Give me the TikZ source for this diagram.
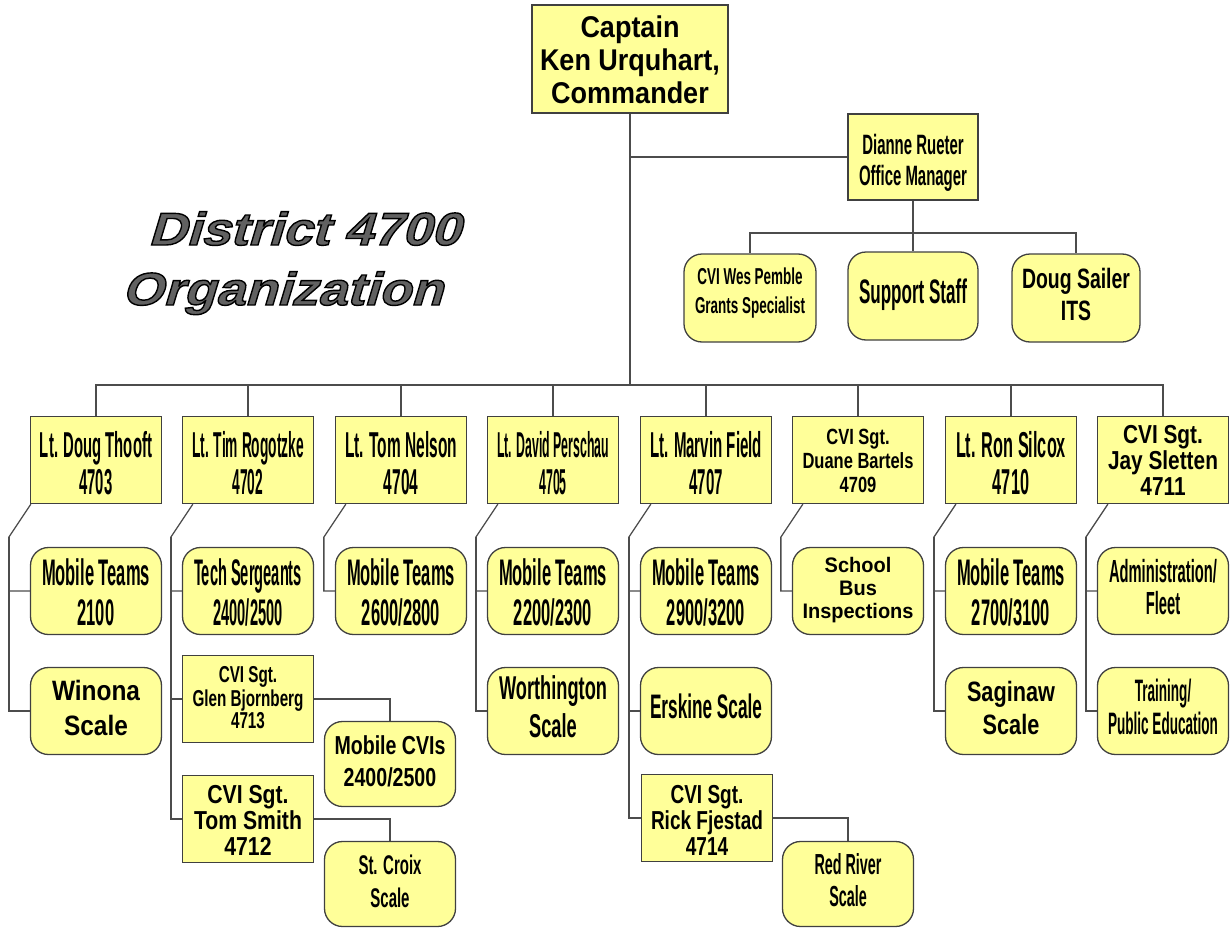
\documentclass[tikz,border=0pt]{standalone}
\usepackage{fontspec}
\usepackage{graphicx}
\usepackage{tikz}
\usetikzlibrary{calc, positioning}
\setmainfont{Liberation Sans}
\newfontfamily\titlefont{Liberation Sans}[FakeStretch=1.14,FakeSlant=0.3]
\definecolor{boxfill}{RGB}{255,255,153}
\newcommand{\fit}[3][0]{\raisebox{-#1pt}[\height][\depth]{\resizebox*{#2pt}{\totalheight}{\begin{tabular}{@{}c@{}}#3\end{tabular}}}}
\newcommand{\outlined}[1]{\special{pdf:literal direct 0 0 0 RG 2 Tr 1.4 w}#1\special{pdf:literal direct 0 Tr}}

\begin{document}
\begin{tikzpicture}[x=1pt,y=-1pt]
  \tikzset{unit/.style={draw=black!75,line width=1.3pt,fill=boxfill,inner sep=0pt,
      minimum width=131pt,minimum height=87pt}}
  \tikzset{team/.style={unit,rounded corners=18pt}}
  \tikzset{link/.style={draw=black!70,line width=1.3pt}}
  \tikzset{fs/.style 2 args={font=\fontsize{#1}{#2}\selectfont}}
  \tikzset{fb/.style 2 args={font=\bfseries\fontsize{#1}{#2}\selectfont}}
  \tikzset{title/.style={inner sep=0pt,text=black!62,font=\titlefont\bfseries\fontsize{46}{50}\selectfont}}
  \useasboundingbox (0,0) rectangle (1230,928);
  \node[title,anchor=base](ttl1) at (304,245) {\outlined{District 4700}};
  \node[title,anchor=base](ttl2) at (282,305) {\outlined{Organization}};
  \node[unit,minimum width=196pt,minimum height=108pt,fb={30}{33}](cmd) at (630,59) {\fit[5]{180}{Captain\\Ken Urquhart,\\Commander}};
  \node[unit,minimum width=130pt,minimum height=86pt,fb={28}{31}](mgr) at (913,157) {\fit[7]{108}{Dianne Rueter\\Office Manager}};
  \node[team,minimum width=132pt,minimum height=88pt,fb={23}{29}](grants) at (750,298) {\fit[-5]{110}{CVI Wes Pemble\\Grants Specialist}};
  \node[team,minimum width=130pt,minimum height=88pt,fb={34}{38}](staff) at (913,296) {\fit{108}{Support Staff}};
  \node[team,minimum width=128pt,minimum height=88pt,fb={28}{32}](its) at (1076,298) {\fit{108}{Doug Sailer\\ITS}};
  \coordinate(mbus) at (913,233);
  \coordinate(bus) at (630,385);
  \node[unit,fb={36}{37}](lt1) at (96,460) {\fit[9]{112}{Lt. Doug Thooft\\4703}};
  \node[unit,fb={36}{37}](lt2) at (248,460) {\fit[9]{112}{Lt. Tim Rogotzke\\4702}};
  \node[unit,fb={36}{37}](lt3) at (401,460) {\fit[9]{112}{Lt. Tom Nelson\\4704}};
  \node[unit,fb={36}{37}](lt4) at (553,460) {\fit[9]{112}{Lt. David Perschau\\4705}};
  \node[unit,fb={36}{37}](lt5) at (706,460) {\fit[9]{112}{Lt. Marvin Field\\4707}};
  \node[unit,fb={22}{24}](lt6) at (858,460) {\fit[4]{111}{CVI Sgt.\\Duane Bartels\\4709}};
  \node[unit,fb={36}{37}](lt7) at (1011,460) {\fit[9]{110}{Lt. Ron Silcox\\4710}};
  \node[unit,fb={26}{24}](lt8) at (1163,460) {\fit[4]{110}{CVI Sgt.\\Jay Sletten\\4711}};
  \node[team,fb={37}{40}](mt1) at (96,591) {\fit[6]{108}{Mobile Teams\\2100}};
  \node[team,fb={28}{35}](win) at (96,711) {\fit{88}{Winona\\Scale}};
  \node[team,fb={37}{40}](tech) at (248,591) {\fit[6]{108}{Tech Sergeants\\2400/2500}};
  \node[unit,fb={23}{22}](glen) at (248,699) {\fit[2]{111}{CVI Sgt.\\Glen Bjornberg\\4713}};
  \node[team,minimum height=85pt,fb={26}{32}](cvis) at (390,764) {\fit{111}{Mobile CVIs\\2400/2500}};
  \node[unit,fb={26}{24}](smith) at (248,819) {\fit[5]{108}{CVI Sgt.\\Tom Smith\\4712}};
  \node[team,minimum height=85pt,fb={27}{33}](croix) at (390,884) {\fit{63}{St. Croix\\Scale}};
  \node[team,fb={37}{40}](mt3) at (401,591) {\fit[6]{108}{Mobile Teams\\2600/2800}};
  \node[team,fb={37}{40}](mt4) at (553,591) {\fit[6]{108}{Mobile Teams\\2200/2300}};
  \node[team,fb={33}{38}](worth) at (553,711) {\fit{108}{Worthington\\Scale}};
  \node[team,fb={37}{40}](mt5) at (706,591) {\fit[6]{108}{Mobile Teams\\2900/3200}};
  \node[team,fb={34}{38}](ersk) at (706,711) {\fit{112}{Erskine Scale}};
  \node[unit,fb={26}{25}](rick) at (707,818) {\fit[6]{112}{CVI Sgt.\\Rick Fjestad\\4714}};
  \node[team,minimum height=85pt,fb={29}{32}](red) at (848,884) {\fit{67}{Red River\\Scale}};
  \node[team,fb={21}{23}](bus6) at (858,591) {\fit{111}{School\\Bus\\Inspections}};
  \node[team,fb={37}{40}](mt7) at (1011,591) {\fit[6]{108}{Mobile Teams\\2700/3100}};
  \node[team,fb={28}{33}](sag) at (1011,711) {\fit{88}{Saginaw\\Scale}};
  \node[team,fb={32}{30}](admin) at (1163,591) {\fit{108}{Administration/\\Fleet}};
  \node[team,fb={31}{33}](train) at (1163,711) {\fit{110}{Training/\\Public Education}};
  \draw[link] (cmd) -- (bus);
  \draw[link] (cmd) |- (mgr);
  \draw[link] (mgr) -- (mbus);
  \draw[link] (mbus) -| (grants);
  \draw[link] (mbus) -| (staff);
  \draw[link] (mbus) -| (its);
  \draw[link] (bus) -| (lt1);
  \draw[link] (bus) -| (lt2);
  \draw[link] (bus) -| (lt3);
  \draw[link] (bus) -| (lt4);
  \draw[link] (bus) -| (lt5);
  \draw[link] (bus) -| (lt6);
  \draw[link] (bus) -| (lt7);
  \draw[link] (bus) -| (lt8);
  \draw[link] ([xshift=1pt]lt1.south west) -- ++(-22,33) coordinate(b1) |- (mt1);
  \draw[link] (b1) |- (win);
  \draw[link] ([xshift=11pt]lt2.south west) -- ++(-22,33) coordinate(b2) |- (tech);
  \draw[link] (b2) |- (glen);
  \draw[link] (b2) |- (smith);
  \draw[link] (glen) -| (cvis);
  \draw[link] (smith) -| (croix);
  \draw[link] ([xshift=11pt]lt3.south west) -- ++(-22,33) |- (mt3);
  \draw[link] ([xshift=11pt]lt4.south west) -- ++(-22,33) coordinate(b4) |- (mt4);
  \draw[link] (b4) |- (worth);
  \draw[link] ([xshift=11pt]lt5.south west) -- ++(-22,33) coordinate(b5) |- (mt5);
  \draw[link] (b5) |- (ersk);
  \draw[link] (b5) |- (rick);
  \draw[link] (rick) -| (red);
  \draw[link] ([xshift=11pt]lt6.south west) -- ++(-22,33) |- (bus6);
  \draw[link] ([xshift=11pt]lt7.south west) -- ++(-22,33) coordinate(b7) |- (mt7);
  \draw[link] (b7) |- (sag);
  \draw[link] ([xshift=11pt]lt8.south west) -- ++(-22,33) coordinate(b8) |- (admin);
  \draw[link] (b8) |- (train);
\end{tikzpicture}
\end{document}
